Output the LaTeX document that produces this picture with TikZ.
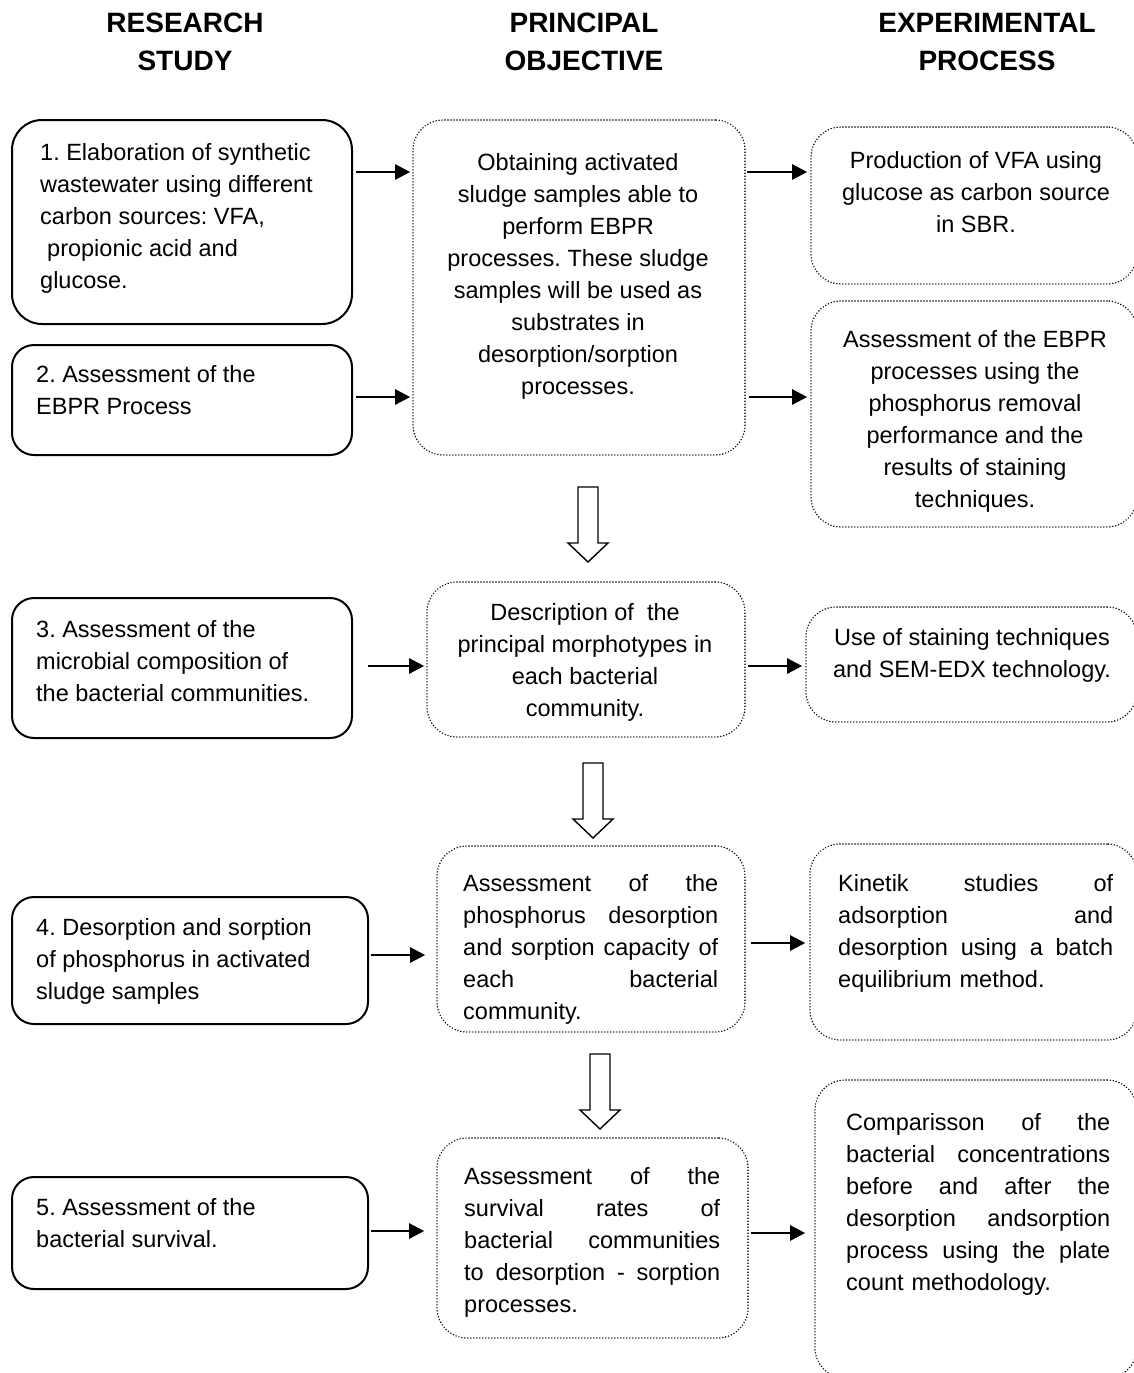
\documentclass[tikz,border=0pt]{standalone}
\usepackage{fontspec}
\setmainfont{Liberation Sans}
\usetikzlibrary{arrows.meta}
\newcommand{\jl}[2]{\leavevmode\hbox to #1{#2}}
\frenchspacing
\begin{document}
\begin{tikzpicture}[x=1pt,y=-1pt,
 solidbox/.style={draw, line width=2pt, rounded corners=22pt, inner sep=0pt},
 dotbox/.style={draw, line width=1.6pt, line cap=round, dash pattern=on 0pt off 3pt, rounded corners=30pt, inner sep=0pt},
 txt/.style={font=\frenchspacing\fontsize{23.5}{32}\selectfont, inner sep=0pt, execute at begin node=\strut},
 ltxt/.style={txt, anchor=north west, align=left},
 ctxt/.style={txt, anchor=north, align=center},
 jtxt/.style={txt, anchor=north west, align=left, text width=#1},
 head/.style={font=\fontsize{28}{38}\selectfont\bfseries, inner sep=0pt, anchor=north, align=center, execute at begin node=\strut},
 conn/.style={line width=2.4pt, -{Triangle[length=15pt,width=15pt]}},
 hollow/.style={draw, line width=1.4pt, fill=white},
 harrow/.pic={\draw[hollow] (-10,0) -- (10,0) -- (10,56) -- (20,56) -- (0,75) -- (-20,56) -- (-10,56) -- cycle;}
]
\useasboundingbox (0,0) rectangle (1134,1373);
\clip (0,0) rectangle (1134,1373);
\fill[white] (0,0) rectangle (1134,1373);

% headers
\node[head] (h1) at (185,13) {RESEARCH\\STUDY};
\node[head] (h2) at (584,13) {PRINCIPAL\\OBJECTIVE};
\node[head] (h3) at (987,13) {EXPERIMENTAL\\PROCESS};

% left column boxes
\node[solidbox, rounded corners=30pt, minimum width=340pt, minimum height=204pt] (b1) at (182,222) {};
\node[solidbox, minimum width=340pt, minimum height=110pt] (b2) at (182,400) {};
\node[solidbox, minimum width=340pt, minimum height=140pt] (b3) at (182,668) {};
\node[solidbox, minimum width=356pt, minimum height=127pt] (b4) at (190,960.5) {};
\node[solidbox, minimum width=356pt, minimum height=112pt] (b5) at (190,1233) {};

% middle column boxes
\node[dotbox, minimum width=332pt, minimum height=335pt] (m1) at (579,287.5) {};
\node[dotbox, minimum width=318pt, minimum height=155pt] (m2) at (586,659.5) {};
\node[dotbox, minimum width=308pt, minimum height=186pt] (m3) at (591,939) {};
\node[dotbox, minimum width=311pt, minimum height=200pt] (m4) at (592.5,1238) {};

% right column boxes
\node[dotbox, minimum width=326pt, minimum height=157pt] (r1) at (974,205.5) {};
\node[dotbox, minimum width=326pt, minimum height=226pt] (r2) at (974,414) {};
\node[dotbox, minimum width=331pt, minimum height=115pt] (r3) at (971.5,664.5) {};
\node[dotbox, minimum width=327pt, minimum height=196pt] (r4) at (973.5,942) {};
\node[dotbox, minimum width=322pt, minimum height=298pt] (r5) at (976,1229) {};

% left texts
\node[ltxt] (t1) at (40,143.6) {1. Elaboration of synthetic\\wastewater using different\\carbon sources: VFA,\\\hspace*{7pt}propionic acid and\\glucose.};
\node[ltxt] (t2) at (36,365.6) {2. Assessment of the\\EBPR Process};
\node[ltxt] (t3) at (36,620.6) {3. Assessment of the\\microbial composition of\\the bacterial communities.};
\node[ltxt] (t4) at (36,918.6) {4. Desorption and sorption\\of phosphorus in activated\\sludge samples};
\node[ltxt] (t5) at (36,1198.6) {5. Assessment of the\\bacterial survival.};

% middle texts
\node[ctxt] (tm1) at (578,153.6) {Obtaining activated\\sludge samples able to\\perform EBPR\\processes. These sludge\\samples will be used as\\substrates in\\desorption/sorption\\processes.};
\node[ctxt] (tm2) at (585,603.6) {Description of\ \ the\\principal morphotypes in\\each bacterial\\community.};
\node[jtxt=255pt] (tm3) at (463,868.6) {\jl{255pt}{Assessment\hfill of\hfill the}\\\jl{255pt}{phosphorus\hfill desorption}\\\jl{255pt}{and\hfill sorption\hfill capacity\hfill of}\\\jl{255pt}{each\hfill bacterial}\\community.};
\node[jtxt=256pt] (tm4) at (464,1161.6) {\jl{256pt}{Assessment\hfill of\hfill the}\\\jl{256pt}{survival\hfill rates\hfill of}\\\jl{256pt}{bacterial\hfill communities}\\\jl{256pt}{to\hfill desorption\hfill -\hfill sorption}\\processes.};

% right texts
\node[ctxt] (tr1) at (976,151.6) {Production of VFA using\\glucose as carbon source\\in SBR.};
\node[ctxt] (tr2) at (975,330.6) {Assessment of the EBPR\\processes using the\\phosphorus removal\\performance and the\\results of staining\\techniques.};
\node[ctxt] (tr3) at (972,628.6) {Use of staining techniques\\and SEM-EDX technology.};
\node[jtxt=275pt] (tr4) at (838,868.6) {\jl{275pt}{Kinetik\hfill studies\hfill of}\\\jl{275pt}{adsorption\hfill and}\\\jl{275pt}{desorption\hfill using\hfill a\hfill batch}\\equilibrium method.};
\node[jtxt=264pt] (tr5) at (846,1107.6) {\jl{264pt}{Comparisson\hfill of\hfill the}\\\jl{264pt}{bacterial\hfill concentrations}\\\jl{264pt}{before\hfill and\hfill after\hfill the}\\\jl{264pt}{desorption\hfill andsorption}\\\jl{264pt}{process\hfill using\hfill the\hfill plate}\\count methodology.};

% connector levels
\coordinate (ya) at (0,172);
\coordinate (yb) at (0,397);
\coordinate (yc) at (0,666);
\coordinate (yd) at (0,955);
\coordinate (ye) at (0,943);
\coordinate (yf) at (0,1231);
\coordinate (yg) at (0,1233);

\draw[conn, shorten <=3pt, shorten >=2pt] (b1.east |- ya) -- (m1.west |- ya);
\draw[conn, shorten <=3pt, shorten >=2pt] (b2.east |- yb) -- (m1.west |- yb);
\draw[conn, shorten <=1pt, shorten >=3pt] (m1.east |- ya) -- (r1.west |- ya);
\draw[conn, shorten <=3pt, shorten >=3pt] (m1.east |- yb) -- (r2.west |- yb);
\draw[conn, shorten <=15pt, shorten >=2pt] (b3.east |- yc) -- (m2.west |- yc);
\draw[conn, shorten <=2pt, shorten >=3pt] (m2.east |- yc) -- (r3.west |- yc);
\draw[conn, shorten <=2pt, shorten >=11pt] (b4.east |- yd) -- (m3.west |- yd);
\draw[conn, shorten <=5pt, shorten >=4pt] (m3.east |- ye) -- (r4.west |- ye);
\draw[conn, shorten <=2pt, shorten >=12pt] (b5.east |- yf) -- (m4.west |- yf);
\draw[conn, shorten <=2pt, shorten >=9pt] (m4.east |- yg) -- (r5.west |- yg);

% hollow block arrows
\pic at (588,487) {harrow};
\pic at (593,763) {harrow};
\pic at (600,1054) {harrow};
\end{tikzpicture}
\end{document}
